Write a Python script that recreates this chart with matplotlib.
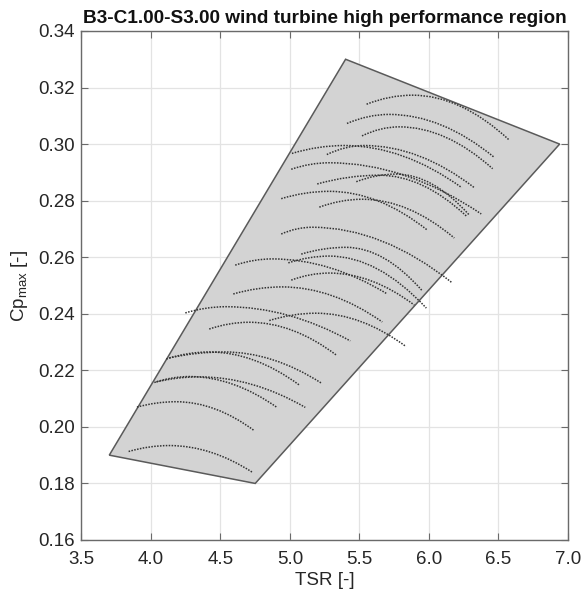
import matplotlib
matplotlib.use("Agg")
import matplotlib.pyplot as plt
from matplotlib.path import Path
from matplotlib.patches import PathPatch, Polygon

plt.rcParams['font.family'] = ['Liberation Sans', 'DejaVu Sans']
plt.rcParams['mathtext.fontset'] = 'custom'
plt.rcParams['mathtext.rm'] = 'Liberation Sans'

# ---- data ----
title = "B3-C1.00-S3.00 wind turbine high performance region"
x_ticks = [3.5, 4.0, 4.5, 5.0, 5.5, 6.0, 6.5, 7.0]
x_tick_labels = ["3.5", "4.0", "4.5", "5.0", "5.5", "6.0", "6.5", "7.0"]
y_ticks = [0.16, 0.18, 0.20, 0.22, 0.24, 0.26, 0.28, 0.30, 0.32, 0.34]
y_tick_labels = ["0.16", "0.18", "0.20", "0.22", "0.24", "0.26", "0.28", "0.30", "0.32", "0.34"]

# high performance region (polygon vertices)
region_tsr = [3.70, 4.75, 6.94, 5.40]
region_cp = [0.190, 0.180, 0.300, 0.330]

# Cp-TSR curves: start, peak and end of each curve
start_tsr = [5.551, 5.410, 5.518, 5.014, 5.265, 5.009, 5.196, 5.477, 4.937, 5.211,
             4.937, 5.081, 4.606, 4.988, 5.009, 4.592, 4.247, 4.851, 4.419, 4.110,
             4.132, 4.024, 4.038, 3.899, 3.839]
start_cp = [0.3141, 0.3073, 0.3029, 0.2967, 0.2963, 0.2911, 0.2859, 0.2867, 0.2807, 0.2777,
            0.2682, 0.2611, 0.2572, 0.2580, 0.2519, 0.2470, 0.2403, 0.2376, 0.2346, 0.2240,
            0.2244, 0.2157, 0.2159, 0.2070, 0.1913]
peak_tsr = [5.882, 5.714, 5.786, 5.391, 5.535, 5.283, 5.642, 5.763, 5.283, 5.520,
            5.160, 5.403, 4.873, 5.283, 5.283, 4.944, 4.540, 5.187, 4.707, 4.419,
            4.527, 4.276, 4.347, 4.180, 4.132]
peak_cp = [0.3173, 0.3105, 0.3061, 0.2995, 0.2995, 0.2934, 0.2890, 0.2894, 0.2833, 0.2805,
           0.2706, 0.2635, 0.2594, 0.2604, 0.2544, 0.2495, 0.2425, 0.2402, 0.2370, 0.2265,
           0.2265, 0.2178, 0.2177, 0.2089, 0.1934]
end_tsr = [6.578, 6.470, 6.458, 6.236, 6.326, 6.376, 6.268, 6.290, 5.988, 6.182,
           6.168, 5.952, 5.700, 5.981, 5.894, 5.664, 5.434, 5.835, 5.333, 5.067,
           5.225, 4.909, 5.110, 4.745, 4.731]
end_cp = [0.3014, 0.2953, 0.2913, 0.2846, 0.2846, 0.2753, 0.2746, 0.2749, 0.2696, 0.2668,
          0.2509, 0.2481, 0.2470, 0.2420, 0.2431, 0.2371, 0.2304, 0.2284, 0.2254, 0.2148,
          0.2155, 0.2068, 0.2069, 0.1986, 0.1839]

# ---- figure ----
fig = plt.figure(figsize=(5.85, 5.98), dpi=100)
ax = fig.add_axes([0.1393, 0.0970, 0.8316, 0.8512])

axis_col = '#6a6a6a'
text_col = '#262626'

ax.set_xlim(3.5, 7.0)
ax.set_ylim(0.16, 0.34)
ax.set_xticks(x_ticks)
ax.set_xticklabels(x_tick_labels)
ax.set_yticks(y_ticks)
ax.set_yticklabels(y_tick_labels)
ax.grid(True, color='#e3e3e3', linewidth=0.9)
ax.set_axisbelow(True)

region = Polygon(list(zip(region_tsr, region_cp)), closed=True,
                 facecolor='#d3d3d3', edgecolor='#5a5a5a', linewidth=1.1, zorder=2)
ax.add_patch(region)

for x0, y0, xp, yp, x1, y1 in zip(start_tsr, start_cp, peak_tsr, peak_cp, end_tsr, end_cp):
    verts = [(x0, y0), ((x0 + xp) / 2, yp), (xp, yp), ((xp + x1) / 2, yp), (x1, y1)]
    codes = [Path.MOVETO, Path.CURVE3, Path.CURVE3, Path.CURVE3, Path.CURVE3]
    ax.add_patch(PathPatch(Path(verts, codes), fill=False, edgecolor='#333333',
                           linewidth=1.1, linestyle=(0, (1.0, 0.9)), zorder=3))

for s in ax.spines.values():
    s.set_color(axis_col)
    s.set_linewidth(1.0)
ax.tick_params(direction='in', length=5, width=0.8, colors=axis_col,
               top=True, right=True, labelsize=13.5, labelcolor=text_col)
ax.tick_params(axis='y', pad=5)
ax.tick_params(axis='x', pad=8)

ax.set_xlabel("TSR [-]", fontsize=13.5, color=text_col, labelpad=3)
ax.set_ylabel(r"Cp$_{\mathregular{max}}$ [-]", fontsize=13.5, color=text_col)
ax.yaxis.set_label_coords(-0.105, 0.5)
ax.set_title(title, fontsize=13.7, fontweight='bold', color='#111111', pad=6)

fig.savefig("out.png", dpi=100)
